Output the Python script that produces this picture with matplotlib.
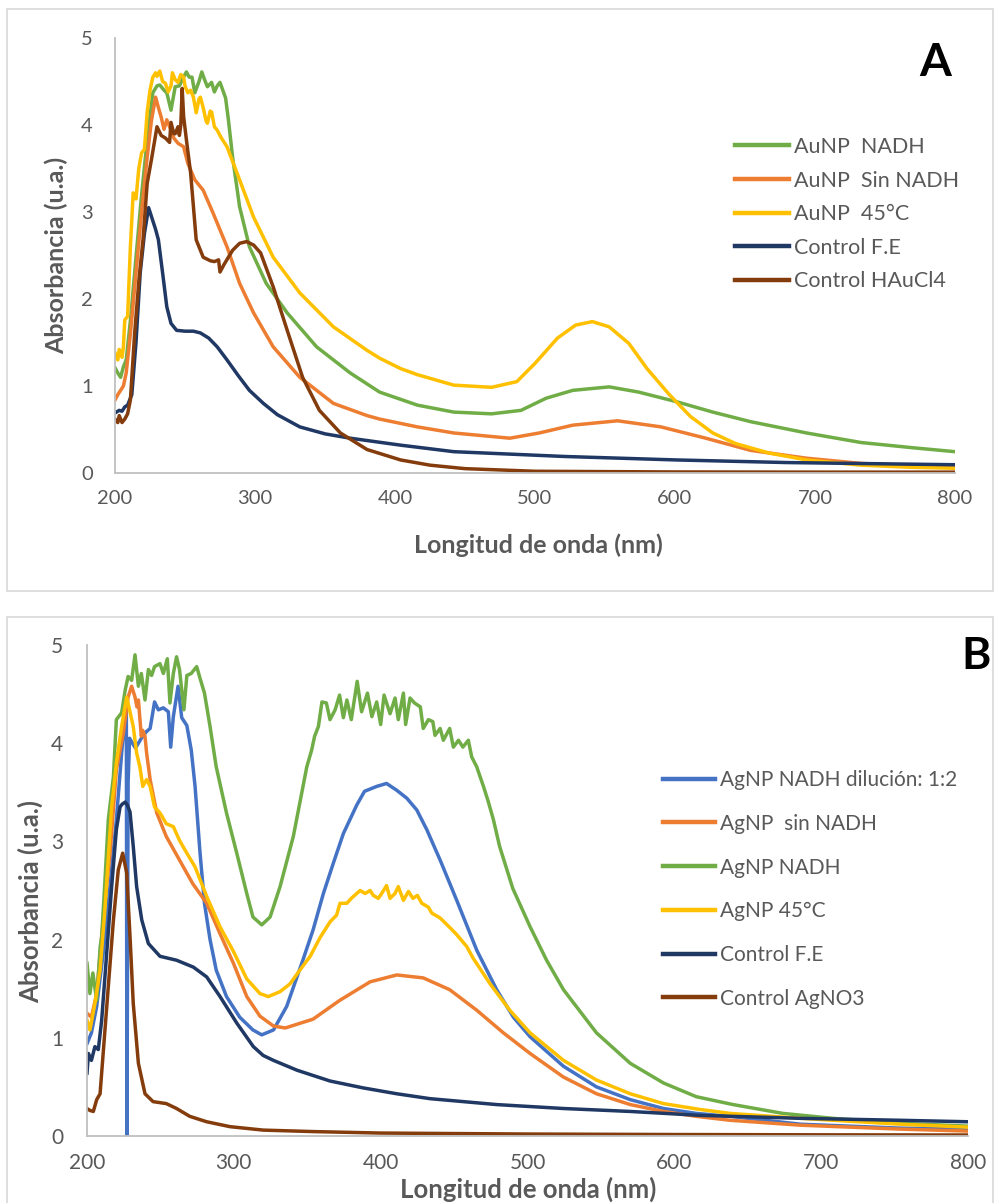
import matplotlib
matplotlib.use('Agg')
import matplotlib.pyplot as plt
from matplotlib.patches import Rectangle

plt.rcParams['font.family'] = ['Lato', 'DejaVu Sans']

GREEN = '#70AD47'
ORANGE = '#ED7D31'
GOLD = '#FFC000'
NAVY = '#203864'
BROWN = '#843C0C'
BLUE = '#4472C4'
TXT = '#595959'

# ── Panel A: AuNP spectra ────────────────────────────────────────────────
a_green_x = [200, 202, 204, 206, 208, 211, 215, 219, 223, 227, 230, 232, 235, 237, 240, 243,
             246, 248, 251, 253, 255, 257, 260, 262, 264, 266, 269, 271, 273, 275, 277, 279,
             281, 284, 289, 296, 308, 323, 344, 368, 389, 416, 442, 469, 490, 508, 527, 553,
             574, 601, 627, 654, 694, 733, 770, 800]
a_green_y = [1.21, 1.15, 1.10, 1.22, 1.30, 1.75, 2.48, 3.20, 3.83, 4.37, 4.45, 4.46, 4.40, 4.37,
             4.17, 4.44, 4.45, 4.52, 4.61, 4.55, 4.55, 4.37, 4.50, 4.61, 4.52, 4.44, 4.49, 4.38,
             4.45, 4.49, 4.40, 4.31, 4.06, 3.63, 3.06, 2.60, 2.18, 1.84, 1.45, 1.15, 0.93, 0.78,
             0.70, 0.68, 0.72, 0.86, 0.95, 0.99, 0.93, 0.82, 0.70, 0.59, 0.46, 0.35, 0.29, 0.245]

a_orange_x = [200, 202, 204, 206, 208, 211, 215, 219, 223, 226, 229, 231, 233, 235, 237, 240,
              242, 245, 249, 252, 257, 263, 270, 280, 289, 299, 313, 332, 356, 380, 389, 404,
              416, 442, 482, 503, 527, 559, 590, 622, 654, 694, 733, 800]
a_orange_y = [0.84, 0.90, 0.95, 1.00, 1.15, 1.60, 2.30, 3.00, 3.63, 4.05, 4.32, 4.20, 4.09, 3.95,
              4.06, 3.94, 3.85, 3.79, 3.75, 3.56, 3.37, 3.25, 2.99, 2.60, 2.18, 1.84, 1.45, 1.10,
              0.80, 0.66, 0.62, 0.57, 0.53, 0.46, 0.40, 0.46, 0.55, 0.60, 0.53, 0.40, 0.26, 0.17,
              0.11, 0.06]

a_gold_x = [200, 202, 203, 205, 206, 207, 209, 211, 213, 215, 217, 219, 221, 223, 225, 227, 229,
            230, 232, 234, 236, 238, 240, 241, 243, 245, 247, 249, 250, 252, 254, 256, 258, 260,
            261, 263, 265, 266, 268, 269, 271, 273, 276, 280, 289, 299, 313, 332, 356, 380, 389,
            404, 416, 442, 469, 487, 500, 516, 529, 541, 553, 567, 580, 596, 611, 627, 643, 667,
            694, 733, 770, 800]
a_gold_y = [1.38, 1.30, 1.42, 1.33, 1.45, 1.76, 1.80, 2.60, 3.22, 3.15, 3.50, 3.68, 3.72, 4.15,
            4.40, 4.55, 4.60, 4.56, 4.62, 4.50, 4.48, 4.38, 4.45, 4.60, 4.52, 4.49, 4.58, 4.55,
            4.45, 4.37, 4.40, 4.32, 4.14, 4.30, 4.32, 4.20, 4.05, 4.02, 4.16, 4.15, 3.98, 3.94,
            3.85, 3.75, 3.37, 2.94, 2.48, 2.07, 1.68, 1.41, 1.32, 1.20, 1.13, 1.01, 0.985, 1.05,
            1.26, 1.55, 1.70, 1.74, 1.68, 1.49, 1.20, 0.90, 0.65, 0.46, 0.34, 0.23, 0.15, 0.09,
            0.065, 0.055]

a_navy_x = [200, 203, 205, 207, 209, 212, 215, 218, 221, 224, 226, 229, 231, 234, 237, 240, 244,
            250, 256, 261, 267, 273, 280, 288, 296, 306, 316, 332, 350, 368, 404, 442, 521, 601,
            680, 800]
a_navy_y = [0.69, 0.72, 0.71, 0.76, 0.78, 0.90, 1.50, 2.30, 2.75, 3.05, 2.95, 2.80, 2.68, 2.30,
            1.91, 1.72, 1.64, 1.63, 1.63, 1.61, 1.55, 1.45, 1.30, 1.12, 0.95, 0.80, 0.67, 0.53,
            0.45, 0.40, 0.32, 0.245, 0.19, 0.15, 0.12, 0.095]

a_brown_x = [200, 202, 203, 205, 207, 209, 211, 214, 217, 220, 223, 226, 230, 233, 236, 239, 240,
             242, 243, 245, 246, 247, 248, 249, 251, 254, 258, 263, 268, 271, 274, 275, 278, 284,
             289, 294, 299, 304, 313, 323, 334, 346, 361, 380, 404, 425, 450, 500, 600, 700, 800]
a_brown_y = [0.62, 0.58, 0.66, 0.58, 0.62, 0.68, 0.84, 1.60, 2.20, 2.68, 3.33, 3.60, 3.98, 3.88,
             3.85, 3.80, 4.03, 3.90, 3.90, 3.98, 3.88, 4.00, 4.42, 4.10, 3.83, 3.45, 2.68, 2.48,
             2.44, 2.43, 2.45, 2.31, 2.40, 2.56, 2.64, 2.66, 2.62, 2.53, 2.14, 1.64, 1.10, 0.72,
             0.46, 0.27, 0.15, 0.09, 0.05, 0.02, 0.012, 0.01, 0.01]

# ── Panel B: AgNP spectra ────────────────────────────────────────────────
b_blue_x = [200, 203, 206.6, 211, 215.7, 220, 223.6, 226, 226.8, 227.2, 228, 229, 233, 237,
            240.6, 243, 246, 248.6, 252, 255.4, 257, 258.8, 262, 264.5, 268, 271, 273.6, 277,
            280, 283.8, 288, 295, 304, 313, 319, 327, 336, 347, 354, 361, 367.8, 374.6, 379,
            383.7, 389, 397.3, 404, 411, 417.8, 424.6, 431.4, 440.5, 451.8, 465.5, 479, 490.4,
            501.8, 524.5, 547, 570, 592.6, 615, 638, 686, 754, 800]
b_blue_y = [0.94, 1.05, 1.32, 1.86, 2.54, 3.22, 3.90, 4.30, 4.35, 0.0, 3.60, 4.05, 3.95, 4.05,
            4.12, 4.15, 4.42, 4.34, 4.36, 4.32, 3.96, 4.27, 4.58, 4.26, 4.18, 3.93, 3.56, 2.88,
            2.37, 2.00, 1.69, 1.42, 1.21, 1.08, 1.03, 1.08, 1.32, 1.79, 2.10, 2.47, 2.78, 3.08,
            3.22, 3.37, 3.51, 3.56, 3.59, 3.52, 3.44, 3.32, 3.12, 2.81, 2.40, 1.89, 1.49, 1.21,
            1.01, 0.71, 0.50, 0.37, 0.28, 0.23, 0.20, 0.12, 0.08, 0.07]

b_orange_x = [200, 203, 206.6, 211, 215.7, 220, 224.7, 228, 230.4, 232.7, 234, 235, 237, 238,
              239.5, 240.6, 243, 247.5, 254, 263, 272, 281.5, 290.6, 299.7, 308.8, 317.8, 327,
              335, 354, 372, 392.8, 411, 429, 447, 465.5, 483.6, 501.8, 524.5, 547, 570, 592.6,
              615, 638, 686, 754, 800]
b_orange_y = [1.25, 1.21, 1.45, 2.20, 2.88, 3.73, 4.10, 4.47, 4.58, 4.47, 4.37, 4.44, 4.07, 4.13,
              4.07, 3.90, 3.63, 3.29, 3.05, 2.81, 2.57, 2.37, 2.06, 1.76, 1.42, 1.22, 1.12, 1.10,
              1.19, 1.38, 1.57, 1.64, 1.61, 1.49, 1.28, 1.05, 0.84, 0.60, 0.43, 0.32, 0.25, 0.20,
              0.16, 0.11, 0.07, 0.05]

b_green_x = [200, 202, 204, 206.6, 209, 210, 212, 214.5, 218, 220, 223.6, 226, 228, 230.4, 232.7,
             235, 237, 239.5, 241.8, 244, 246, 249.7, 252, 254.7, 256.5, 258.8, 261, 263, 266,
             268, 271, 274.7, 277, 280, 283.8, 288, 295, 302, 308.8, 313, 319, 324.7, 331.5,
             340.5, 349.7, 353, 355, 357.6, 360, 363, 365.5, 369, 372, 374.6, 377, 380, 384, 387,
             391, 394, 397.3, 400, 402.3, 406.4, 409.8, 412, 415.5, 417, 420, 423, 427, 429,
             432.5, 435.5, 437, 440.5, 442.7, 447, 449.5, 453, 456, 459.7, 462, 465.4, 470, 473,
             476.8, 481, 490, 501.8, 513, 524.5, 547, 570, 592.6, 615, 640, 674, 708, 754, 800]
b_green_y = [1.76, 1.45, 1.66, 1.38, 1.93, 2.03, 2.54, 3.22, 3.66, 4.24, 4.31, 4.54, 4.68, 4.64,
             4.90, 4.58, 4.71, 4.44, 4.75, 4.69, 4.78, 4.81, 4.71, 4.86, 4.41, 4.71, 4.88, 4.75,
             4.34, 4.69, 4.71, 4.78, 4.66, 4.51, 4.17, 3.76, 3.29, 2.88, 2.47, 2.23, 2.15, 2.23,
             2.54, 3.05, 3.76, 3.93, 4.07, 4.17, 4.42, 4.41, 4.24, 4.34, 4.49, 4.26, 4.44, 4.24,
             4.63, 4.32, 4.51, 4.27, 4.42, 4.19, 4.49, 4.30, 4.46, 4.24, 4.51, 4.19, 4.46, 4.41,
             4.37, 4.15, 4.24, 4.22, 4.08, 4.15, 4.03, 4.15, 3.96, 4.03, 3.96, 4.03, 3.86, 3.76,
             3.56, 3.42, 3.22, 2.95, 2.52, 2.13, 1.79, 1.49, 1.05, 0.74, 0.54, 0.40, 0.32, 0.23,
             0.18, 0.13, 0.10]

b_gold_x = [200, 202, 205.4, 208.9, 212, 216.8, 220, 223.6, 227, 229, 231.5, 233.8, 236, 238,
            240.6, 243, 246, 249.7, 254, 258.8, 263, 268, 273.6, 281.5, 290.6, 299.7, 308.8,
            317.8, 323.5, 331.5, 338.3, 345, 352, 358.7, 365.5, 370, 372.3, 377, 380, 386, 389.4,
            392.8, 395, 398.4, 400.7, 404, 406.4, 409.8, 412, 415.5, 418.9, 422, 425, 428, 432.5,
            434.8, 440.5, 447.3, 451.8, 458.6, 463, 474.5, 488, 501.8, 524.5, 547, 570, 592.6,
            617.6, 638, 686, 754, 800]
b_gold_y = [1.18, 1.08, 1.35, 1.69, 2.27, 3.35, 3.80, 4.17, 4.47, 4.34, 4.17, 3.90, 3.76, 3.56,
            3.63, 3.56, 3.35, 3.29, 3.18, 3.15, 3.01, 2.88, 2.74, 2.44, 2.13, 1.88, 1.60, 1.45,
            1.42, 1.47, 1.55, 1.69, 1.83, 2.02, 2.18, 2.25, 2.37, 2.37, 2.42, 2.50, 2.47, 2.50,
            2.45, 2.42, 2.47, 2.55, 2.42, 2.47, 2.54, 2.40, 2.49, 2.42, 2.45, 2.37, 2.33, 2.27,
            2.22, 2.12, 2.05, 1.93, 1.81, 1.55, 1.28, 1.05, 0.77, 0.57, 0.43, 0.33, 0.27, 0.23,
            0.18, 0.12, 0.09]

b_navy_x = [200, 201, 203, 205.4, 207.7, 210, 213.4, 216.8, 220, 222.5, 224, 226, 227.5, 229.3,
            231.5, 233.8, 237.3, 241.8, 249.7, 261, 272.4, 281.5, 290.6, 302, 313.3, 320, 327,
            343, 365.5, 388, 411, 433.7, 456.4, 479, 524.5, 570, 617.6, 686, 754, 800]
b_navy_y = [0.64, 0.84, 0.77, 0.91, 0.88, 1.18, 1.86, 2.54, 3.12, 3.35, 3.38, 3.40, 3.37, 3.30,
            2.95, 2.54, 2.20, 1.96, 1.83, 1.79, 1.72, 1.62, 1.42, 1.15, 0.91, 0.82, 0.77, 0.67,
            0.56, 0.49, 0.43, 0.38, 0.35, 0.32, 0.28, 0.25, 0.21, 0.18, 0.16, 0.145]

b_brown_x = [200, 202, 204.3, 206.6, 208.9, 211, 214.5, 218, 221.3, 224.3, 227, 229.3, 231.5,
             235, 239.5, 245, 254, 261, 270, 281.5, 297.4, 320, 354, 400, 500, 600, 700, 800]
b_brown_y = [0.28, 0.26, 0.25, 0.37, 0.43, 0.84, 1.52, 2.20, 2.71, 2.88, 2.68, 2.03, 1.35, 0.74,
             0.43, 0.35, 0.33, 0.28, 0.20, 0.145, 0.095, 0.06, 0.045, 0.03, 0.02, 0.015, 0.012,
             0.01]

series_a = [
    (a_green_x, a_green_y, GREEN, 'AuNP  NADH'),
    (a_orange_x, a_orange_y, ORANGE, 'AuNP  Sin NADH'),
    (a_gold_x, a_gold_y, GOLD, 'AuNP  45°C'),
    (a_navy_x, a_navy_y, NAVY, 'Control F.E'),
    (a_brown_x, a_brown_y, BROWN, 'Control HAuCl4'),
]
series_b = [
    (b_blue_x, b_blue_y, BLUE, 'AgNP NADH dilución: 1:2'),
    (b_orange_x, b_orange_y, ORANGE, 'AgNP  sin NADH'),
    (b_green_x, b_green_y, GREEN, 'AgNP NADH'),
    (b_gold_x, b_gold_y, GOLD, 'AgNP 45°C'),
    (b_navy_x, b_navy_y, NAVY, 'Control F.E'),
    (b_brown_x, b_brown_y, BROWN, 'Control AgNO3'),
]
XTICKS = [200, 300, 400, 500, 600, 700, 800]
YTICKS = [0, 1, 2, 3, 4, 5]

W, H = 995, 1203
fig = plt.figure(figsize=(W/100, H/100), dpi=100)

# panel frames (light gray boxes as in the Excel export)
fig.patches.append(Rectangle((7/W, 1-591/H), 986/W, 582/H, transform=fig.transFigure,
                             fill=False, ec='#D9D9D9', lw=1.2))
fig.patches.append(Rectangle((7/W, -0.01), 986/W, 1-617/H+0.01, transform=fig.transFigure,
                             fill=False, ec='#D9D9D9', lw=1.2))


def panel(rect, series, tick_fs, lab_fs, leg_fs, ypad, xpad, xlab_xy, ylab_xy,
          leg_anchor, leg_spacing):
    ax = fig.add_axes(rect)
    for x, y, c, lab in series:
        ax.plot(x, y, color=c, lw=2.5, label=lab, solid_joinstyle='round')
    ax.set_xlim(200, 800); ax.set_ylim(0, 5)
    ax.set_xticks(XTICKS); ax.set_yticks(YTICKS)
    for s in ['top', 'right']:
        ax.spines[s].set_visible(False)
    for s in ['left', 'bottom']:
        ax.spines[s].set_color('#BFBFBF'); ax.spines[s].set_linewidth(1.3)
    ax.tick_params(axis='both', length=0, labelsize=tick_fs, labelcolor=TXT)
    ax.tick_params(axis='y', pad=ypad); ax.tick_params(axis='x', pad=xpad)
    ax.set_xlabel('Longitud de onda (nm)', fontsize=lab_fs, fontweight='bold', color=TXT)
    ax.set_ylabel('Absorbancia (u.a.)', fontsize=lab_fs, fontweight='bold', color=TXT)
    ax.xaxis.set_label_coords(*xlab_xy); ax.xaxis.label.set_va('center')
    ax.yaxis.set_label_coords(*ylab_xy); ax.yaxis.label.set_va('center')
    leg = ax.legend(loc='upper left', bbox_to_anchor=leg_anchor,
                    bbox_transform=fig.transFigure, frameon=False, fontsize=leg_fs,
                    handlelength=2.5, handletextpad=0.25, labelspacing=leg_spacing,
                    borderpad=0, borderaxespad=0)
    for t in leg.get_texts():
        t.set_color(TXT)
    for h in leg.get_lines():
        h.set_linewidth(3.2)
    return ax


# panel A: axis 200..800 -> x 115..955 px, 0..5 -> y 473..38 px
panel([115/W, 1-473/H, 840/W, 435/H], series_a, 14.5, 18, 15.5, 16, 12,
      (0.5036, -0.1655), (-0.070, 0.501), (735/W, 1-137/H), 0.63)
fig.text(935/W, 1-63/H, 'A', fontsize=33, fontweight='bold', ha='center', va='center')

# panel B: axis 200..800 -> x 87..968 px, 0..5 -> y 1136..645 px
panel([87/W, 1-1136/H, 881/W, 491/H], series_b, 15, 18.5, 15, 17, 12,
      (0.5006, -0.108), (-0.0647, 0.478), (663/W, 1-770/H), 1.14)
fig.text(976/W, 1-656/H, 'B', fontsize=32, fontweight='bold', ha='center', va='center')

fig.savefig('out.png', dpi=100)
